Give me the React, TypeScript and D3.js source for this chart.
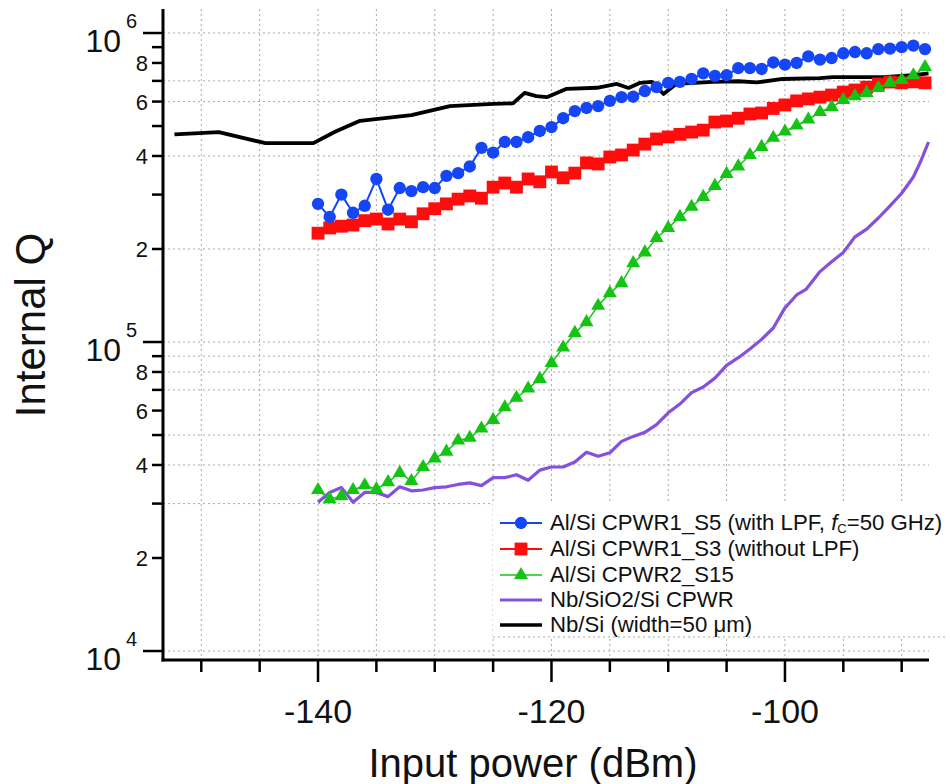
import React, { useEffect, useRef } from 'react';
import * as d3 from 'd3';

// power sweep shared by the three marker series (dBm)
const sweep = [
  -140, -139, -138, -137, -136, -135, -134, -133, -132, -131, -130, -129, -128, -127,
  -126, -125, -124, -123, -122, -121, -120, -119, -118, -117, -116, -115, -114, -113,
  -112, -111, -110, -109, -108, -107, -106, -105, -104, -103, -102, -101, -100, -99,
  -98, -97, -96, -95, -94, -93, -92, -91, -90, -89, -88,
];

// Al/Si CPWR1_S5 (with LPF)
const blueQ = [
  2.8e5, 2.54e5, 3.0e5, 2.62e5, 2.76e5, 3.37e5, 2.68e5, 3.15e5, 3.08e5, 3.17e5, 3.15e5, 3.45e5, 3.52e5, 3.7e5,
  4.25e5, 4.1e5, 4.44e5, 4.44e5, 4.6e5, 4.82e5, 4.96e5, 5.3e5, 5.59e5, 5.72e5, 5.8e5, 6.03e5, 6.2e5, 6.22e5,
  6.49e5, 6.68e5, 6.9e5, 6.95e5, 7.1e5, 7.4e5, 7.26e5, 7.3e5, 7.7e5, 7.7e5, 7.65e5, 8.03e5, 7.9e5, 8.0e5,
  8.4e5, 8.2e5, 8.3e5, 8.6e5, 8.68e5, 8.6e5, 8.87e5, 8.9e5, 9.0e5, 9.1e5, 8.87e5,
];

// Al/Si CPWR1_S3 (without LPF)
const redQ = [
  2.25e5, 2.34e5, 2.37e5, 2.39e5, 2.47e5, 2.5e5, 2.41e5, 2.5e5, 2.45e5, 2.6e5, 2.7e5, 2.8e5, 2.9e5, 2.97e5,
  2.92e5, 3.17e5, 3.27e5, 3.17e5, 3.37e5, 3.3e5, 3.55e5, 3.4e5, 3.52e5, 3.8e5, 3.77e5, 3.97e5, 4.03e5, 4.18e5,
  4.37e5, 4.54e5, 4.61e5, 4.7e5, 4.78e5, 4.85e5, 5.15e5, 5.19e5, 5.3e5, 5.47e5, 5.51e5, 5.7e5, 5.85e5, 6.03e5,
  6.12e5, 6.2e5, 6.3e5, 6.44e5, 6.54e5, 6.68e5, 6.84e5, 6.94e5, 6.9e5, 6.95e5, 6.9e5,
];

// Al/Si CPWR2_S15
const greenQ = [
  3.32e4, 3.1e4, 3.17e4, 3.32e4, 3.44e4, 3.34e4, 3.52e4, 3.77e4, 3.55e4, 3.94e4, 4.2e4, 4.42e4, 4.8e4, 4.9e4,
  5.25e4, 5.6e4, 6.15e4, 6.6e4, 7.07e4, 7.6e4, 8.55e4, 9.6e4, 1.07e5, 1.16e5, 1.31e5, 1.44e5, 1.55e5, 1.8e5,
  1.95e5, 2.17e5, 2.34e5, 2.54e5, 2.74e5, 2.95e5, 3.2e5, 3.5e5, 3.7e5, 4.03e5, 4.28e5, 4.58e5, 4.8e5, 5.02e5,
  5.25e5, 5.55e5, 5.76e5, 6.07e5, 6.25e5, 6.4e5, 6.64e5, 6.9e5, 7.05e5, 7.3e5, 7.76e5,
];

// Nb/SiO2/Si CPWR
const purpleP = [
  -140, -139, -138, -137, -136, -135, -134, -133, -132, -131, -130, -129, -128, -127,
  -126, -125, -124, -123, -122, -121, -120, -119, -118, -117, -116, -115, -114, -113,
  -112, -111, -110, -109, -108, -107, -106, -105, -104, -103, -102, -101, -100, -99,
  -98.2, -97, -96, -95, -94, -93, -92, -91, -90, -89, -88.4, -87.7,
];
const purpleQ = [
  3.03e4, 3.26e4, 3.38e4, 3.03e4, 3.26e4, 3.26e4, 3.16e4, 3.4e4, 3.3e4, 3.32e4, 3.38e4, 3.4e4, 3.46e4, 3.5e4,
  3.43e4, 3.64e4, 3.64e4, 3.72e4, 3.57e4, 3.85e4, 3.94e4, 3.94e4, 4.09e4, 4.4e4, 4.27e4, 4.38e4, 4.77e4, 4.95e4,
  5.1e4, 5.4e4, 5.9e4, 6.3e4, 6.86e4, 7.15e4, 7.64e4, 8.4e4, 8.9e4, 9.5e4, 1.02e5, 1.11e5, 1.29e5, 1.42e5,
  1.48e5, 1.69e5, 1.82e5, 1.95e5, 2.19e5, 2.32e5, 2.52e5, 2.76e5, 3.03e5, 3.42e5, 3.82e5, 4.44e5,
];

// Nb/Si (width=50 um)
const blackP = [
  -152.3, -148.5, -144.5, -140.4, -138.5, -136.4, -132, -128.7, -125, -123.3, -122.3, -121.3, -120.4, -118.7,
  -116.1, -114.4, -113.4, -112.4, -111.4, -110.4, -109.3, -106.2, -104, -102.4, -100.2, -97, -95.9, -91.6, -89, -87.7,
];
const blackQ = [
  4.7e5, 4.78e5, 4.4e5, 4.4e5, 4.8e5, 5.2e5, 5.42e5, 5.8e5, 5.9e5, 5.92e5, 6.4e5, 6.25e5, 6.2e5, 6.6e5,
  6.65e5, 6.84e5, 6.64e5, 6.9e5, 6.95e5, 6.35e5, 6.85e5, 6.95e5, 6.98e5, 6.92e5, 7.1e5, 7.15e5, 7.2e5, 7.2e5, 7.3e5, 7.4e5,
];

const xLabelTicks = [-140, -120, -100];
const xMinorTicks = [-150, -145, -140, -135, -130, -125, -120, -115, -110, -105, -100, -95, -90];
const yDecades = [1e4, 1e5, 1e6];
const yMinorMult = [2, 3, 4, 5, 6, 7, 8, 9];
const yLabeledMult = [2, 4, 6, 8];
const yGridValues = [1e6, 7e5, 6e5, 4e5, 2e5, 1e5, 9e4, 8e4, 7e4, 5e4, 4e4, 3e4, 1e4];

const legendNames = [
  'Al/Si CPWR1_S5 (with LPF, ',
  'Al/Si CPWR1_S3 (without LPF)',
  'Al/Si CPWR2_S15',
  'Nb/SiO2/Si CPWR',
  'Nb/Si (width=50 \u03bcm)',
];

const BLUE = '#1446f5';
const RED = '#ff0d0d';
const GREEN = '#14c414';
const PURPLE = '#8450de';
const BLACK = '#000';

const App = () => {
  const ref = useRef<SVGSVGElement>(null);

  useEffect(() => {
    if (!ref.current) return;
    const svg = d3.select(ref.current);
    svg.selectAll('*').remove();
    const font = '"Liberation Sans", Arial, Helvetica, sans-serif';

    const x = d3.scaleLinear().domain([-153.28, -87.66]).range([163, 929]);
    const y = d3.scaleLog().domain([9353, 1.196e6]).range([660, 9]);

    // grid
    const grid = svg.append('g')
      .attr('stroke', '#a9a9a9').attr('stroke-width', 1).attr('stroke-dasharray', '2,3');
    grid.selectAll('.gv').data(xMinorTicks).enter().append('line')
      .attr('x1', d => x(d)).attr('x2', d => x(d)).attr('y1', 9).attr('y2', 660);
    grid.selectAll('.gh').data(yGridValues).enter().append('line')
      .attr('x1', 163).attr('x2', 929).attr('y1', d => y(d)).attr('y2', d => y(d));

    // legend background
    svg.append('rect').attr('x', 493).attr('y', 503).attr('width', 455).attr('height', 134).attr('fill', '#fff');
    svg.append('line').attr('x1', 493).attr('x2', 945).attr('y1', 637).attr('y2', 637)
      .attr('stroke', '#a9a9a9').attr('stroke-dasharray', '2,3');

    const line = d3.line<[number, number]>().x(d => x(d[0])).y(d => y(d[1]));
    const pts = (p: number[], q: number[]) => p.map((v, i) => [v, q[i]] as [number, number]);

    const purple = pts(purpleP, purpleQ);
    const black = pts(blackP, blackQ);
    const red = pts(sweep, redQ);
    const green = pts(sweep, greenQ);
    const blue = pts(sweep, blueQ);

    svg.append('path').datum(purple).attr('d', line).attr('fill', 'none')
      .attr('stroke', PURPLE).attr('stroke-width', 3.2).attr('stroke-linejoin', 'round');
    svg.append('path').datum(black).attr('d', line).attr('fill', 'none')
      .attr('stroke', BLACK).attr('stroke-width', 3.8).attr('stroke-linejoin', 'round');

    const symbolSeries = (data: [number, number][], color: string, type: d3.SymbolType, size: number, lw: number) => {
      svg.append('path').datum(data).attr('d', line).attr('fill', 'none')
        .attr('stroke', color).attr('stroke-width', lw);
      svg.append('g').selectAll('path').data(data).enter().append('path')
        .attr('d', d3.symbol().type(type).size(size)())
        .attr('transform', d => `translate(${x(d[0])},${y(d[1])})`)
        .attr('fill', color);
    };
    symbolSeries(red, RED, d3.symbolSquare, 165, 2);
    symbolSeries(green, GREEN, d3.symbolTriangle, 85, 1.5);
    symbolSeries(blue, BLUE, d3.symbolCircle, 120, 2);

    // axes
    const ax = svg.append('g').attr('stroke', '#000');
    ax.append('line').attr('x1', 163).attr('x2', 163).attr('y1', 9).attr('y2', 661.5).attr('stroke-width', 3);
    ax.append('line').attr('x1', 161.5).attr('x2', 929).attr('y1', 660).attr('y2', 660).attr('stroke-width', 3);

    ax.selectAll('.xt').data(xMinorTicks).enter().append('line')
      .attr('x1', d => x(d)).attr('x2', d => x(d)).attr('y1', 660)
      .attr('y2', d => (xLabelTicks.includes(d) ? 682 : 672)).attr('stroke-width', 2.5);

    svg.append('g').selectAll('text').data(xLabelTicks).enter().append('text')
      .attr('x', d => x(d)).attr('y', 723).attr('text-anchor', 'middle')
      .attr('font-family', font).attr('font-size', 34).attr('fill', '#111')
      .text(d => String(d));

    // y ticks
    const minorVals: number[] = [];
    yDecades.slice(0, 2).forEach(dec => yMinorMult.forEach(m => minorVals.push(dec * m)));
    ax.selectAll('.ytm').data(minorVals).enter().append('line')
      .attr('x1', 152).attr('x2', 163).attr('y1', d => y(d)).attr('y2', d => y(d)).attr('stroke-width', 2.5);
    ax.selectAll('.ytM').data(yDecades).enter().append('line')
      .attr('x1', 143).attr('x2', 163).attr('y1', d => y(d)).attr('y2', d => y(d)).attr('stroke-width', 2.5);

    const labeled: number[] = [];
    yDecades.slice(0, 2).forEach(dec => yLabeledMult.forEach(m => labeled.push(dec * m)));
    svg.append('g').selectAll('text').data(labeled).enter().append('text')
      .attr('x', 148).attr('y', d => y(d) + 8).attr('text-anchor', 'end')
      .attr('font-family', font).attr('font-size', 22).attr('fill', '#111')
      .text(d => String(Math.round(d / Math.pow(10, Math.floor(Math.log10(d) + 1e-9)))));

    const decG = svg.append('g').attr('font-family', font).attr('fill', '#111');
    decG.selectAll('.d10').data(yDecades).enter().append('text')
      .attr('x', 121).attr('y', d => y(d) + 19).attr('text-anchor', 'end').attr('font-size', 32)
      .text('10');
    decG.selectAll('.dexp').data(yDecades).enter().append('text')
      .attr('x', 126).attr('y', d => y(d) - 5).attr('font-size', 20)
      .text(d => String(Math.round(Math.log10(d))));

    // axis titles
    svg.append('text').attr('x', 533).attr('y', 777).attr('text-anchor', 'middle')
      .attr('font-family', font).attr('font-size', 40).attr('fill', '#111')
      .text('Input power (dBm)');
    svg.append('text').attr('transform', 'translate(45,325) rotate(-90)').attr('text-anchor', 'middle')
      .attr('font-family', font).attr('font-size', 42).attr('fill', '#111')
      .text('Internal Q');

    // legend
    const legendColors = [BLUE, RED, GREEN, PURPLE, BLACK];
    const legendSymbols = [d3.symbolCircle, d3.symbolSquare, d3.symbolTriangle, null, null];
    const legendSizes = [120, 165, 85, 0, 0];
    const legendWidths = [2, 2, 1.5, 3, 3.5];
    const rowY = [523, 549, 575, 600, 625];
    const lg = svg.append('g');
    legendNames.forEach((name, i) => {
      const yy = rowY[i];
      lg.append('line').attr('x1', 500).attr('x2', 542).attr('y1', yy).attr('y2', yy)
        .attr('stroke', legendColors[i]).attr('stroke-width', legendWidths[i]);
      const sym = legendSymbols[i];
      if (sym) {
        lg.append('path').attr('d', d3.symbol().type(sym).size(legendSizes[i])())
          .attr('transform', `translate(521,${yy})`).attr('fill', legendColors[i]);
      }
      const t = lg.append('text').attr('x', 550).attr('y', yy + 7)
        .attr('font-family', font).attr('font-size', 22.2).attr('fill', '#111');
      t.append('tspan').text(name);
      if (i === 0) {
        t.append('tspan').attr('font-style', 'italic').text('f');
        t.append('tspan').attr('font-size', 13).attr('dy', 3).text('C');
        t.append('tspan').attr('dy', -3).text('=50 GHz)');
      }
    });
  }, []);

  return (
    <svg
      ref={ref}
      width={950}
      height={784}
      style={{ position: 'absolute', left: 0, top: 0, background: '#fff' }}
    />
  );
};

export default App;
